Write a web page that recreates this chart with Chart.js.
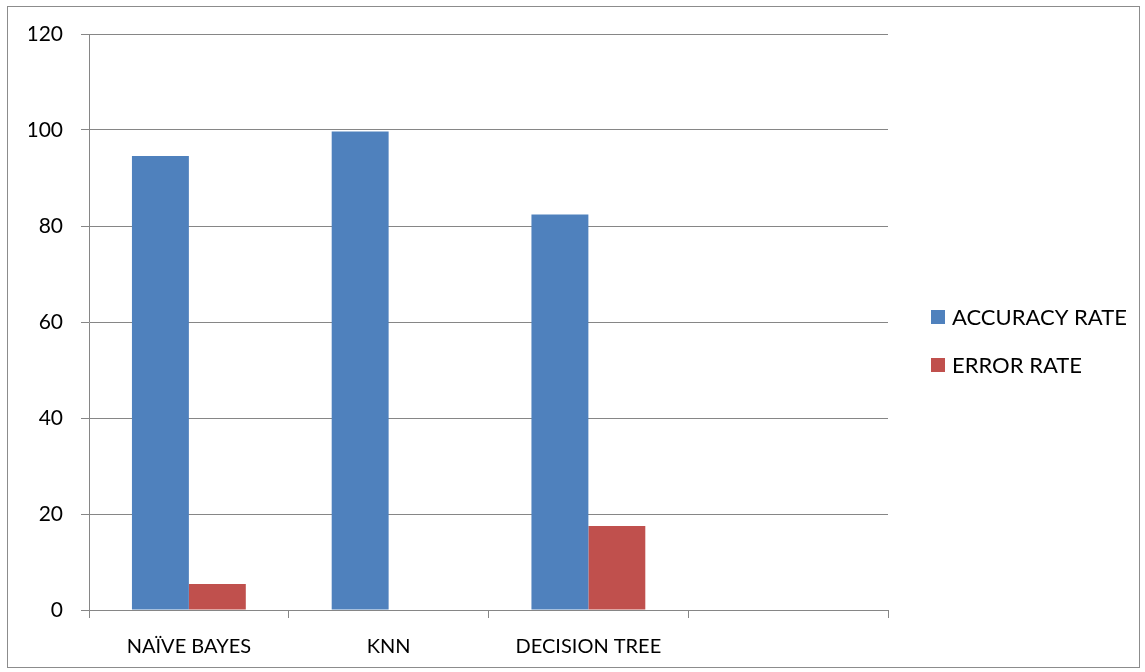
<!DOCTYPE html>
<html>
<head>
<meta charset="utf-8">
<script src="https://cdn.jsdelivr.net/npm/chart.js@4/dist/chart.umd.min.js"></script>
<style>
  body { margin: 0; background: #fff; }
  #wrap { position: relative; width: 1145px; height: 672px; }
  #frame { position: absolute; left: 7px; top: 6px; width: 1131px; height: 660px; border: 1px solid #8c8c8c; pointer-events: none; }
</style>
</head>
<body>
<div id="wrap">
  <canvas id="chart" width="1145" height="672"></canvas>
  <div id="frame"></div>
</div>
<script>
const categories = ['NAÏVE BAYES', 'KNN', 'DECISION TREE', ''];
const accuracyRate = [94.6, 99.7, 82.4, null];
const errorRate = [5.4, 0, 17.5, null];
const yTicks = [0, 20, 40, 60, 80, 100, 120];

const FONT = 'Lato, "Open Sans", sans-serif';

// legend drawn by hand to the right of the plot
const sideLegend = {
    id: 'sideLegend',
    afterDraw(chart) {
        const ctx = chart.ctx;
        const x = chart.chartArea.right + 43;
        const mid = chart.height / 2 + 5;
        ctx.save();
        ctx.font = '22px ' + FONT;
        ctx.textBaseline = 'middle';
        chart.data.datasets.forEach((ds, i) => {
            const y = mid + (i - 0.5) * 48;
            ctx.fillStyle = ds.backgroundColor;
            ctx.fillRect(x, y - 7, 14, 14);
            ctx.fillStyle = '#000';
            ctx.fillText(ds.label, x + 21, y + 1);
        });
        ctx.restore();
    }
};

new Chart(document.getElementById('chart'), {
    type: 'bar',
    data: {
        labels: categories,
        datasets: [
            { label: 'ACCURACY RATE', data: accuracyRate, backgroundColor: '#4F81BD' },
            { label: 'ERROR RATE', data: errorRate, backgroundColor: '#C0504D' }
        ]
    },
    options: {
        responsive: false,
        animation: false,
        datasets: {
            bar: { categoryPercentage: 0.57, barPercentage: 1.0 }
        },
        layout: { padding: { left: 29, right: 257, top: 34, bottom: 12 } },
        plugins: {
            legend: { display: false },
            tooltip: { enabled: false }
        },
        scales: {
            x: {
                grid: { drawOnChartArea: false, drawTicks: true, tickLength: 8, color: '#868686', offset: true },
                border: { color: '#868686' },
                ticks: { color: '#000', font: { family: FONT, size: 20 }, padding: 17 },
                afterFit: s => { s.height = 50; }
            },
            y: {
                min: 0,
                max: 120,
                afterBuildTicks: s => { s.ticks = yTicks.map(v => ({ value: v })); },
                grid: { color: '#868686', tickLength: 8 },
                border: { color: '#868686' },
                ticks: { color: '#000', font: { family: FONT, size: 21 }, padding: 18 },
                afterFit: s => { s.width = 60; }
            }
        }
    },
    plugins: [sideLegend]
});
</script>
</body>
</html>
